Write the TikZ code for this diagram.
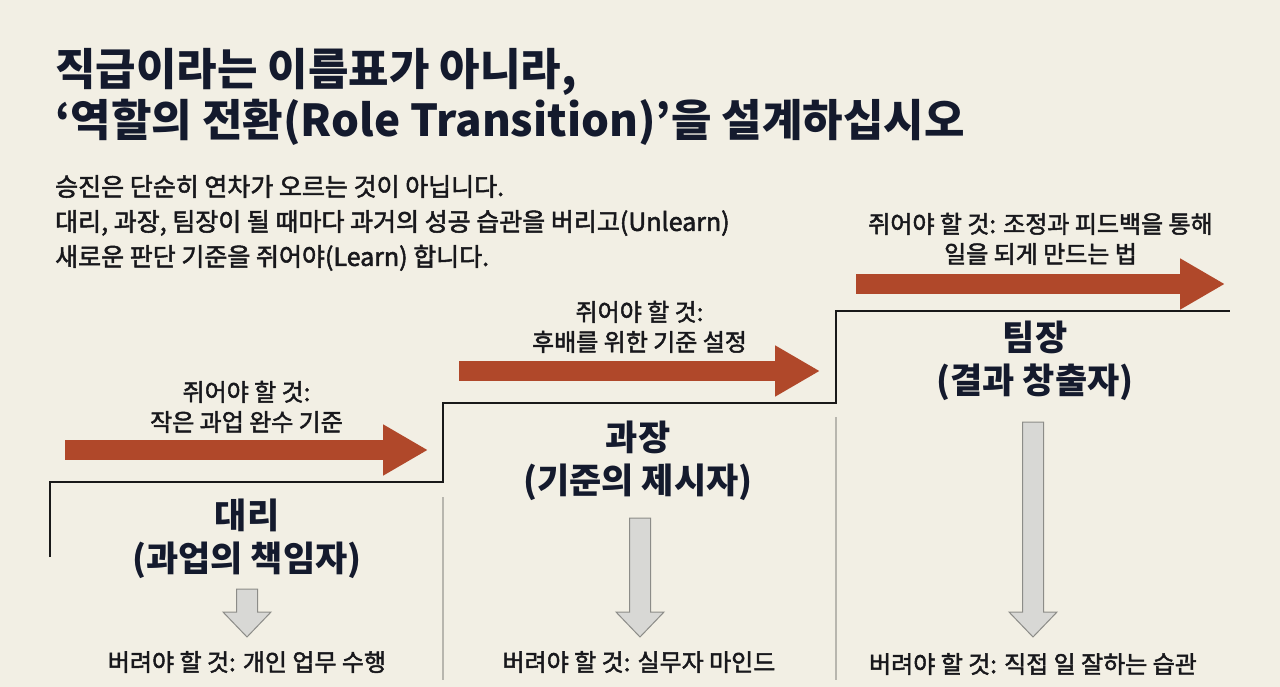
\documentclass[tikz,border=0pt]{standalone}
\usepackage{fontspec}
\setmainfont{Noto Sans CJK KR}
\newfontfamily\mediumkr[FakeBold=2]{Noto Sans CJK KR}
\usetikzlibrary{arrows.meta,positioning}

\definecolor{paper}{RGB}{242,239,228}
\definecolor{inknavy}{RGB}{20,26,45}
\definecolor{inktext}{RGB}{24,24,28}
\definecolor{rust}{RGB}{176,72,42}
\definecolor{dropfill}{RGB}{216,216,213}
\definecolor{dropline}{RGB}{140,140,136}
\definecolor{divider}{RGB}{184,182,174}

\begin{document}
\begin{tikzpicture}[x=1pt,y=-1pt,
					titletext/.style={anchor=north west,
					align=left,
					inner sep=0pt,
					text=inknavy,
					font=\fontsize{44}{51}\selectfont\bfseries},
					leadtext/.style={anchor=north west,
					align=left,
					inner sep=0pt,
					text=inktext,
					font=\fontsize{25}{35}\selectfont\mediumkr},
					roletext/.style={align=center,
					inner sep=0pt,
					text=inknavy,
					font=\fontsize{35}{43}\selectfont\bfseries},
					gaintext/.style={align=center,
					inner sep=0pt,
					text=inktext,
					font=\fontsize{24}{30}\selectfont\mediumkr},
					droptext/.style={inner sep=0pt,
					text=inktext,
					font=\fontsize{24}{30}\selectfont\mediumkr},
					giveline/.style={draw=rust,
					line width=20pt,
					-{Triangle[length=45pt,width=48pt]}},
					droparrow/.style={draw=dropline,
					fill=dropfill,
					line width=1pt,
					line join=miter},
					stepline/.style={draw=black!90,
					line width=2.2pt},
					dividerline/.style={draw=divider,
					line width=1.4pt}
					]

% paper
\fill[paper] (0,0) rectangle (1280,687);
\useasboundingbox (0,0) rectangle (1280,687);

% heading
\node[titletext] (title) at (55,48) {직급이라는 이름표가 아니라,\\‘역할의 전환(Role Transition)’을 설계하십시오};
\node[leadtext] (lead) at (55,175) {승진은 단순히 연차가 오르는 것이 아닙니다.\\대리, 과장, 팀장이 될 때마다 과거의 성공 습관을 버리고(Unlearn)\\새로운 판단 기준을 쥐어야(Learn) 합니다.};

% stairs
\draw[stepline] (50,557) -- (50,482) -- (443,482) -- (443,403) -- (836,403) -- (836,311) -- (1230,311);
\draw[dividerline] (443,497) -- (443,680);
\draw[dividerline] (836,417) -- (836,680);

% give arrows
\coordinate (give1s) at (65,450);
\coordinate (give1e) at (428,450);
\coordinate (give2s) at (459,371);
\coordinate (give2e) at (820,371);
\coordinate (give3s) at (856,284);
\coordinate (give3e) at (1225,284);

\draw[giveline] (give1s) -- coordinate[midway](give1m) (give1e);
\draw[giveline] (give2s) -- coordinate[midway](give2m) (give2e);
\draw[giveline] (give3s) -- coordinate[midway](give3m) (give3e);

\node[gaintext] (daerigain) [above=17pt of give1m] {쥐어야 할 것:\\작은 과업 완수 기준};
\node[gaintext] (gwajanggain) [above=18pt of give2m] {쥐어야 할 것:\\후배를 위한 기준 설정};
\node[gaintext] (timjanggain) [above=19pt of give3m] {쥐어야 할 것: 조정과 피드백을 통해\\일을 되게 만드는 법};

% roles
\node[roletext] (daeri) at (247,539) {대리\\(과업의 책임자)};
\node[roletext] (gwajang) at (638,461) {과장\\(기준의 제시자)};
\node[roletext] (timjang) at (1035,361) {팀장\\(결과 창출자)};

% drop arrows
\draw[droparrow] (236.5,589) -- (257.5,589) -- (257.5,612) -- (271,612) -- (247,637) -- (223,612) -- (236.5,612) -- cycle;
\draw[droparrow] (629.5,518) -- (650.5,518) -- (650.5,612) -- (664,612) -- (640,637) -- (616,612) -- (629.5,612) -- cycle;
\draw[droparrow] (1022.5,422) -- (1043.5,422) -- (1043.5,612) -- (1057,612) -- (1033,637) -- (1009,612) -- (1022.5,612) -- cycle;

\node[droptext] (daeridrop) at (247,662) {버려야 할 것: 개인 업무 수행};
\node[droptext] (gwajangdrop) at (639,662) {버려야 할 것: 실무자 마인드};
\node[droptext] (timjangdrop) at (1033,664) {버려야 할 것: 직접 일 잘하는 습관};

\end{tikzpicture}
\end{document}
